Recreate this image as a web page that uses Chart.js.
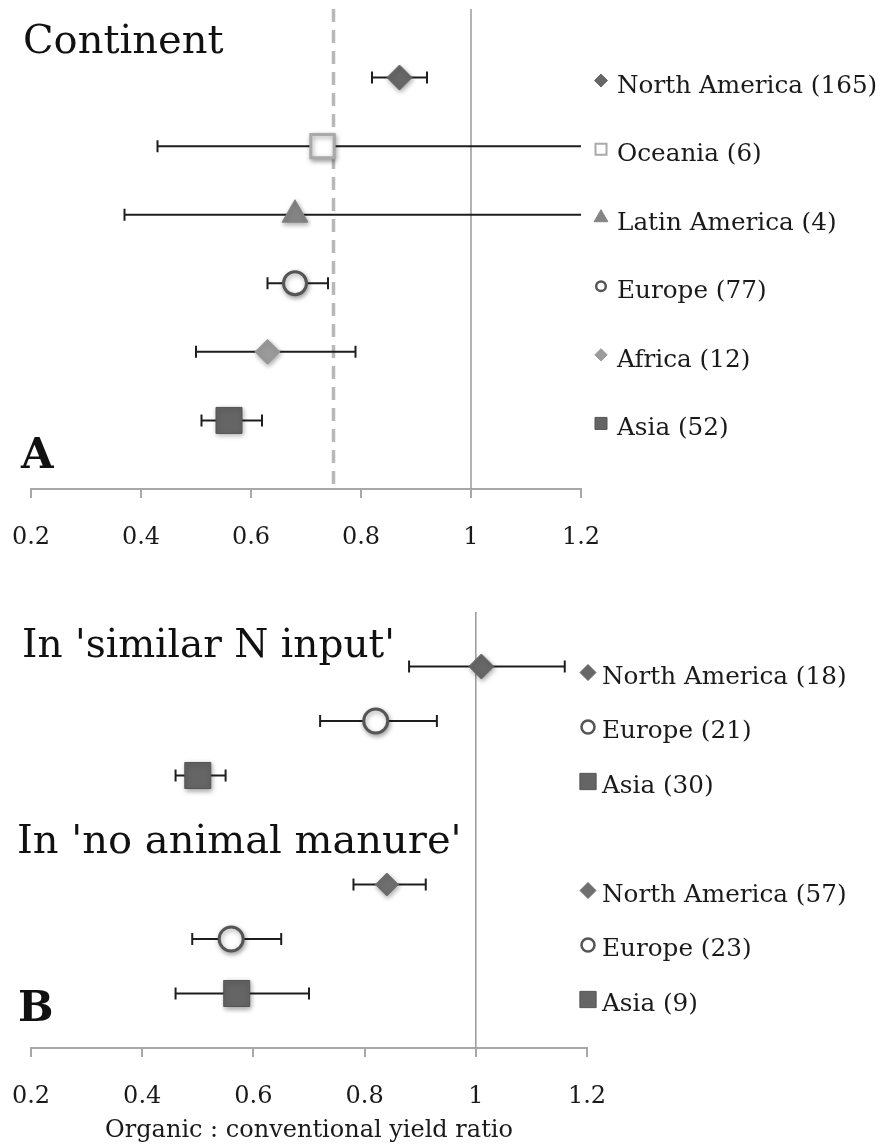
<!DOCTYPE html>
<html>
<head>
<meta charset="utf-8">
<script src="https://cdn.jsdelivr.net/npm/chart.js@4.4.1/dist/chart.umd.min.js"></script>
<style>
html,body{margin:0;padding:0;background:#ffffff;}
#wrap{position:relative;width:880px;height:1147px;overflow:hidden;}
canvas{position:absolute;left:0;}
#cA{top:0;}
#cB{top:580px;}
</style>
</head>
<body>
<div id="wrap">
<canvas id="cA" width="880" height="580"></canvas>
<canvas id="cB" width="880" height="567"></canvas>
</div>
<script>
// ---------- data ----------
const tickValues = [0.2, 0.4, 0.6, 0.8, 1.0, 1.2];
const tickLabels = ['0.2', '0.4', '0.6', '0.8', '1', '1.2'];

// Panel A: continent
const continentLabels = ['North America (165)', 'Oceania (6)', 'Latin America (4)', 'Europe (77)', 'Africa (12)', 'Asia (52)'];
const continentMean = [0.87, 0.73, 0.68, 0.68, 0.63, 0.56];
const continentLow  = [0.82, 0.43, 0.37, 0.63, 0.50, 0.51];
const continentHigh = [0.92, 1.30, 1.30, 0.74, 0.79, 0.62];
const continentRow  = [6, 5, 4, 3, 2, 1];
const overallMean = 0.75;

// Panel B: similar N input / no animal manure
const groupLabels = ['North America (18)', 'Europe (21)', 'Asia (30)', 'North America (57)', 'Europe (23)', 'Asia (9)'];
const groupMean = [1.01, 0.82, 0.50, 0.84, 0.56, 0.57];
const groupLow  = [0.88, 0.72, 0.46, 0.78, 0.49, 0.46];
const groupHigh = [1.16, 0.93, 0.55, 0.91, 0.65, 0.70];
const groupRow  = [7, 6, 5, 3, 2, 1];

const parity = 1.0;

// ---------- styles ----------
const SERIF = "'DejaVu Serif', 'Liberation Serif', serif";
Chart.defaults.font.family = SERIF;
Chart.defaults.color = '#1a1a1a';

const styleA = {
  shape:  ['rectRot', 'rect', 'triangle', 'circle', 'rectRot', 'rect'],
  fill:   ['#676767', '#ffffff', '#858585', '#ffffff', '#9b9b9b', '#656565'],
  stroke: ['#676767', '#a9a9a9', '#858585', '#555555', '#9b9b9b', '#555555'],
  bw:     [1, 3, 1, 3, 1, 1],
  r:      [12.5, 16.5, 15, 11.5, 12.5, 18.4],
  lr:     [6.5, 7.8, 8, 4.8, 6.2, 8.5],
  lbw:    [1, 2, 1, 2.5, 1, 1]
};
const styleB = {
  shape:  ['rectRot', 'circle', 'rect', 'rectRot', 'circle', 'rect'],
  fill:   ['#676767', '#ffffff', '#656565', '#6f6f6f', '#ffffff', '#656565'],
  stroke: ['#676767', '#555555', '#555555', '#6f6f6f', '#555555', '#555555'],
  bw:     [1, 3, 1, 1, 3, 1],
  r:      [12.5, 12, 18.4, 11.5, 12, 18.4],
  lr:     [8, 6.5, 11.5, 8, 6.5, 11.5],
  lbw:    [1, 2.5, 1, 1, 2.5, 1]
};

function fallbackPoint(ctx, o, x, y) {
  const r = o.radius;
  ctx.beginPath();
  if (o.pointStyle === 'circle') ctx.arc(x, y, r, 0, Math.PI * 2);
  else if (o.pointStyle === 'rect') { const s = Math.SQRT1_2 * r; ctx.rect(x - s, y - s, 2 * s, 2 * s); }
  else if (o.pointStyle === 'rectRot') { ctx.moveTo(x - r, y); ctx.lineTo(x, y - r); ctx.lineTo(x + r, y); ctx.lineTo(x, y + r); ctx.closePath(); }
  else { ctx.moveTo(x, y - r); ctx.lineTo(x + r * 0.866, y + r / 2); ctx.lineTo(x - r * 0.866, y + r / 2); ctx.closePath(); }
  ctx.fill();
  if (o.borderWidth > 0) ctx.stroke();
}
function drawMarker(ctx, o, x, y) {
  if (Chart.helpers && Chart.helpers.drawPoint) Chart.helpers.drawPoint(ctx, o, x, y);
  else fallbackPoint(ctx, o, x, y);
}

function forestPlugin(cfg) {
  return {
    id: 'forest' + cfg.id,
    beforeDatasetsDraw(chart) {
      const {ctx, chartArea: a, scales: {x, y}} = chart;
      ctx.save();
      cfg.refs.forEach(r => {
        const px = x.getPixelForValue(r.value);
        ctx.beginPath();
        ctx.strokeStyle = r.color;
        ctx.lineWidth = r.width;
        ctx.setLineDash(r.dash || []);
        ctx.moveTo(px, a.top);
        ctx.lineTo(px, a.bottom);
        ctx.stroke();
      });
      ctx.setLineDash([]);
      ctx.beginPath();
      ctx.rect(a.left - 2, a.top - 10, a.right - a.left + 2, a.bottom - a.top + 10);
      ctx.clip();
      ctx.strokeStyle = '#1e1e1e';
      ctx.lineWidth = 2;
      cfg.mean.forEach((m, i) => {
        const py = y.getPixelForValue(cfg.row[i]);
        const x1 = x.getPixelForValue(cfg.low[i]);
        const x2 = x.getPixelForValue(cfg.high[i]);
        ctx.beginPath();
        ctx.moveTo(x1, py); ctx.lineTo(x2, py);
        ctx.moveTo(x1, py - 6); ctx.lineTo(x1, py + 6);
        ctx.moveTo(x2, py - 6); ctx.lineTo(x2, py + 6);
        ctx.stroke();
      });
      ctx.restore();
    },
    beforeDatasetDraw(chart) {
      const c = chart.ctx;
      c.save();
      c.shadowColor = 'rgba(0,0,0,0.35)';
      c.shadowBlur = 5;
      c.shadowOffsetX = 1;
      c.shadowOffsetY = 2;
    },
    afterDatasetDraw(chart) {
      chart.ctx.restore();
    },
    afterDraw(chart) {
      const {ctx, scales: {y}} = chart;
      const st = cfg.style;
      ctx.save();
      cfg.labels.forEach((lab, i) => {
        const py = y.getPixelForValue(cfg.row[i]);
        ctx.save();
        ctx.fillStyle = st.fill[i];
        ctx.strokeStyle = st.stroke[i];
        ctx.lineWidth = st.lbw[i];
        drawMarker(ctx, {pointStyle: st.shape[i], radius: st.lr[i], borderWidth: st.lbw[i], rotation: 0}, cfg.legend.markerX, py + cfg.legend.markerDy);
        ctx.restore();
        ctx.fillStyle = '#1a1a1a';
        ctx.font = '24.7px ' + SERIF;
        ctx.textBaseline = 'alphabetic';
        ctx.textAlign = 'left';
        ctx.fillText(lab, cfg.legend.textX, py + cfg.legend.baseDy);
      });
      cfg.texts.forEach(t => {
        ctx.fillStyle = '#111111';
        ctx.font = (t.bold ? 'bold ' : '') + t.size + 'px ' + SERIF;
        ctx.textBaseline = 'alphabetic';
        ctx.textAlign = 'left';
        ctx.fillText(t.text, t.x, t.y);
      });
      ctx.restore();
    }
  };
}

function makeChart(canvasId, cfg) {
  const st = cfg.style;
  const pts = cfg.mean.map((v, i) => ({x: v, y: cfg.row[i]}));
  return new Chart(document.getElementById(canvasId), {
    type: 'scatter',
    data: {
      datasets: [{
        data: pts,
        pointStyle: st.shape,
        pointRadius: st.r,
        pointHoverRadius: st.r,
        pointBackgroundColor: st.fill,
        pointBorderColor: st.stroke,
        pointBorderWidth: st.bw,
        pointHoverBorderWidth: st.bw,
        showLine: false,
        clip: false
      }]
    },
    options: {
      responsive: false,
      animation: false,
      events: [],
      devicePixelRatio: 1,
      layout: {autoPadding: false, padding: {left: 31, right: cfg.padRight, top: cfg.padTop, bottom: 0}},
      plugins: {legend: {display: false}, tooltip: {enabled: false}},
      scales: {
        x: {
          type: 'linear',
          min: 0.2,
          max: 1.2,
          afterBuildTicks: s => { s.ticks = tickValues.map(v => ({value: v})); },
          afterFit: s => { s.height = cfg.axisHeight; s.paddingLeft = 0; s.paddingRight = 0; },
          ticks: {
            padding: 25,
            color: '#1a1a1a',
            font: {size: 24, family: SERIF},
            maxRotation: 0,
            callback: (v, i) => tickLabels[i]
          },
          grid: {drawOnChartArea: false, drawTicks: true, tickLength: 9, color: '#a8a8a8', lineWidth: 2},
          border: {display: true, color: '#a8a8a8', width: 2},
          title: cfg.axisTitle ? {
            display: true,
            text: cfg.axisTitle,
            color: '#1a1a1a',
            font: {size: 24, family: SERIF},
            padding: {top: 0, bottom: 2}
          } : {display: false}
        },
        y: {type: 'linear', display: false, min: 0, max: cfg.yMax}
      }
    },
    plugins: [forestPlugin(cfg)]
  });
}

makeChart('cA', {
  id: 'A',
  labels: continentLabels, mean: continentMean, low: continentLow, high: continentHigh, row: continentRow,
  style: styleA,
  yMax: 7,
  padTop: 9,
  padRight: 299,
  axisHeight: 580 - 489,
  refs: [
    {value: overallMean, color: '#b8b8b8', width: 3.5, dash: [13, 8]},
    {value: parity, color: '#9a9a9a', width: 1.5}
  ],
  legend: {markerX: 601, textX: 617, markerDy: 3, baseDy: 15},
  texts: [
    {text: 'Continent', x: 23, y: 53, size: 40},
    {text: 'A', x: 21, y: 468, size: 42, bold: true}
  ]
});

makeChart('cB', {
  id: 'B',
  labels: groupLabels, mean: groupMean, low: groupLow, high: groupHigh, row: groupRow,
  style: styleB,
  yMax: 8,
  padTop: 32,
  padRight: 293,
  axisHeight: 567 - 468,
  axisTitle: 'Organic : conventional yield ratio',
  refs: [
    {value: parity, color: '#9a9a9a', width: 1.5}
  ],
  legend: {markerX: 588, textX: 602, markerDy: 6, baseDy: 17},
  texts: [
    {text: "In 'similar N input'", x: 22, y: 77, size: 39},
    {text: "In 'no animal manure'", x: 17, y: 273, size: 40},
    {text: 'B', x: 18, y: 441, size: 42, bold: true}
  ]
});
</script>
</body>
</html>
